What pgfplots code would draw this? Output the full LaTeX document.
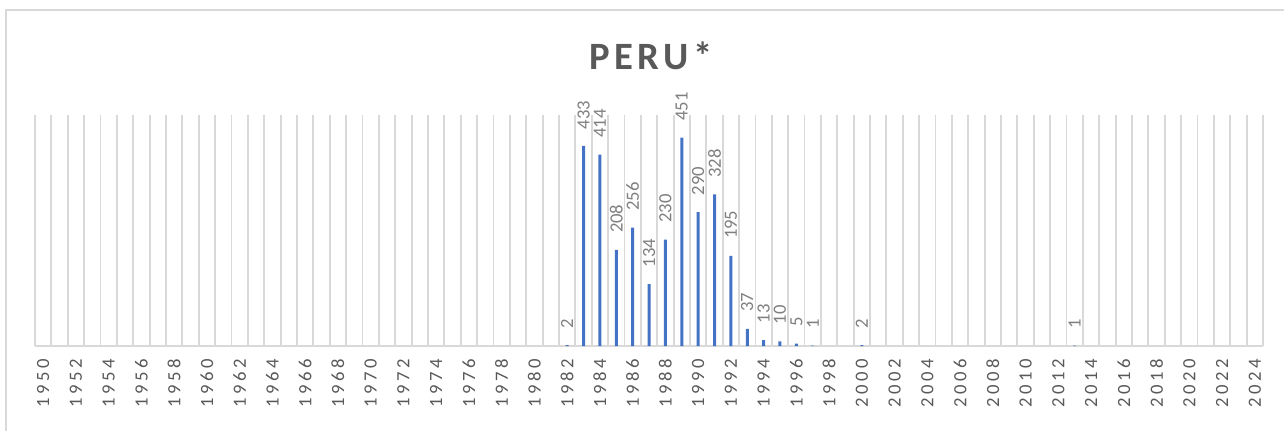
\documentclass[border=0pt]{standalone}
\usepackage{pgfplots}
\pgfplotsset{compat=1.18}
\usepackage{fontspec}
\setmainfont{Carlito}
\definecolor{barblue}{HTML}{4472C4}
\definecolor{gridgray}{HTML}{D9D9D9}
\definecolor{txtgray}{HTML}{595959}
\definecolor{lblgray}{HTML}{7F7F7F}
\begin{document}
\begin{tikzpicture}
\useasboundingbox (0pt,0pt) rectangle (963pt,322.5pt);
\draw[gridgray, line width=1.3pt] (4.5pt,-30pt) rectangle (1000pt,315pt);
\node[txtgray, inner sep=0pt, font=\fontsize{29}{29}\selectfont\bfseries\addfontfeature{LetterSpace=12}, xshift=1.7pt] at (486.4pt,280.9pt) {PERU*};
\begin{axis}[
  at={(26.25pt,63pt)}, anchor=south west,
  scale only axis, width=921pt, height=173.25pt,
  xmin=1949.5, xmax=2024.5, ymin=0, ymax=500,
  clip=false,
  axis x line*=bottom, axis y line=none,
  x axis line style={-, gridgray, line width=1.4pt},
  xtick={1950,1952,...,2024},
  minor xtick={1949.5,1950.5,...,2024.5},
  xminorgrids=true,
  minor grid style={gridgray, line width=1.4pt},
  major tick length=0pt, minor tick length=0pt,
  ytick=\empty,
  /pgf/number format/1000 sep={},
  /pgf/number format/assume math mode=true,
  xticklabel style={rotate=90, anchor=east, inner xsep=9.5pt, inner ysep=0pt, text=txtgray,
    font=\fontsize{14}{14}\selectfont\addfontfeature{LetterSpace=19}},
  ybar, bar width=2.25pt,
  nodes near coords,
  nodes near coords style={rotate=90, anchor=west, inner xsep=12.5pt, inner ysep=0pt, text=lblgray,
    font=\fontsize{14}{14}\selectfont},
]
\addplot[fill=barblue, draw=none] coordinates {
(1982,2) (1983,433) (1984,414) (1985,208) (1986,256) (1987,134) (1988,230)
(1989,451) (1990,290) (1991,328) (1992,195) (1993,37) (1994,13) (1995,10)
(1996,5) (1997,1) (2000,2) (2013,1)
};
\end{axis}
\end{tikzpicture}
\end{document}
